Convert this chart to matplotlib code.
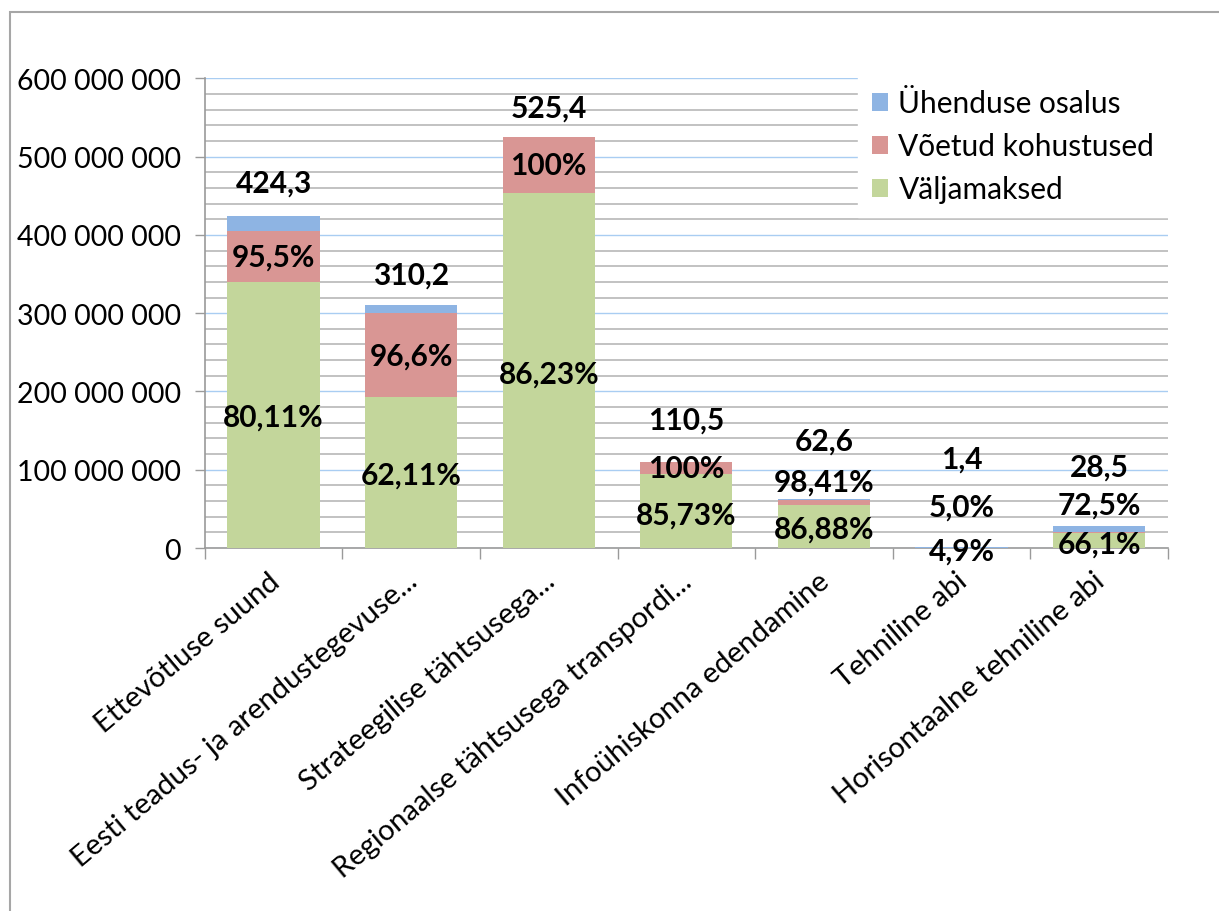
"""Stacked bar chart: payments, commitments and union share by priority axis."""

import matplotlib
matplotlib.use("Agg")
import matplotlib.pyplot as plt
import matplotlib.transforms as mtransforms
import numpy as np
from matplotlib.patches import Rectangle
from matplotlib.ticker import FuncFormatter, MultipleLocator

plt.rcParams["font.family"] = ["Lato", "DejaVu Sans"]

categories = [
    "Ettevõtluse suund",
    "Eesti teadus- ja arendustegevuse...",
    "Strateegilise tähtsusega...",
    "Regionaalse tähtsusega transpordi...",
    "Infoühiskonna edendamine",
    "Tehniline abi",
    "Horisontaalne tehniline abi",
]

# segment values, million EUR
valjamaksed = [339.9, 192.7, 453.1, 94.7, 54.4, 0.07, 18.8]
kohustused = [65.3, 107.0, 72.3, 15.8, 7.2, 0.01, 1.9]
osalus = [19.1, 10.5, 0.0, 0.0, 1.0, 1.32, 7.8]

totals_text = ["424,3", "310,2", "525,4", "110,5", "62,6", "1,4", "28,5"]
pct_red = ["95,5%", "96,6%", "100%", "100%", "98,41%", "5,0%", "72,5%"]
pct_green = ["80,11%", "62,11%", "86,23%", "85,73%", "86,88%", "4,9%", "66,1%"]

# label nudges in pixels
total_dy = [33, 31, 29, 42, 58, 88, 59]
red_dy = [0, 0, 0, 0, 21, 41, 28]
green_dy = [-2, -2, -3, -4, -2, -3, -3]

BLUE = "#8eb4e3"
RED = "#d99694"
GREEN = "#c3d69b"
GRID_MAJOR = "#a9cdf2"
GRID_MINOR = "#b2b2b2"
AXIS = "#9a9a9a"

M = 1e6
fig = plt.figure(figsize=(12.19, 9.12), dpi=100)
ax = fig.add_axes([0.168, 0.398, 0.79, 0.515])

x = np.arange(len(categories))
g = np.array(valjamaksed) * M
r = np.array(kohustused) * M
b = np.array(osalus) * M
w = 0.67
ax.bar(x, g, w, color=GREEN, label="Väljamaksed", zorder=3)
ax.bar(x, r, w, bottom=g, color=RED, label="Võetud kohustused", zorder=3)
ax.bar(x, b, w, bottom=g + r, color=BLUE, label="Ühenduse osalus", zorder=3)

ax.set_xlim(-0.5, len(categories) - 0.5)
ax.set_ylim(0, 600 * M)
ax.yaxis.set_major_locator(MultipleLocator(100 * M))
ax.yaxis.set_minor_locator(MultipleLocator(20 * M))
ax.yaxis.set_major_formatter(FuncFormatter(lambda v, _: f"{int(v):,}".replace(",", " ")))
ax.grid(axis="y", which="minor", color=GRID_MINOR, linewidth=1.1, zorder=0)
ax.grid(axis="y", which="major", color=GRID_MAJOR, linewidth=1.0, zorder=1)
ax.tick_params(axis="y", which="major", length=7, width=1, color=AXIS, labelsize=20.5, pad=10)
ax.tick_params(axis="y", which="minor", length=0)

ax.set_xticks(np.arange(len(categories) + 1) - 0.5, minor=True)
ax.set_xticks(x)
ax.set_xticklabels(categories, rotation=40, ha="right", va="top", rotation_mode="anchor", fontsize=21)
ax.tick_params(axis="x", which="major", length=0, pad=14)
ax.tick_params(axis="x", which="minor", length=8, width=1, color=AXIS)
shift = mtransforms.ScaledTranslation(-6 / 100, 0, fig.dpi_scale_trans)
for lab in ax.get_xticklabels():
    lab.set_transform(lab.get_transform() + shift)

for side in ["top", "right"]:
    ax.spines[side].set_visible(False)
for side in ["left", "bottom"]:
    ax.spines[side].set_color(AXIS)
    ax.spines[side].set_linewidth(1.2)

top = g + r + b
mid_red = g + r / 2
mid_green = g / 2
for i in range(len(categories)):
    ax.annotate(totals_text[i], (x[i], top[i]), xytext=(0, total_dy[i]), textcoords="offset pixels",
                ha="center", va="center", fontsize=21.5, weight="bold", zorder=5)
    ax.annotate(pct_red[i], (x[i], mid_red[i]), xytext=(0, red_dy[i]), textcoords="offset pixels",
                ha="center", va="center", fontsize=21.5, weight="bold", zorder=5)
    ax.annotate(pct_green[i], (x[i], mid_green[i]), xytext=(0, green_dy[i]), textcoords="offset pixels",
                ha="center", va="center", fontsize=21.5, weight="bold", zorder=5, annotation_clip=False)

handles, labels = ax.get_legend_handles_labels()
leg = ax.legend(handles[::-1], labels[::-1], loc="upper right", bbox_to_anchor=(1.0, 1.005),
                fontsize=21.5, frameon=True, fancybox=False, framealpha=1, edgecolor="white",
                handlelength=0.55, handleheight=0.55, handletextpad=0.35, labelspacing=0.5,
                borderpad=0.45, borderaxespad=0, bbox_transform=ax.transAxes)
leg.set_zorder(6)

# outer chart border
fig.add_artist(Rectangle((10 / 1219, -0.1), 1.2, 1 - 13 / 912 + 0.1, transform=fig.transFigure,
                         fill=False, edgecolor="#a6a6a6", linewidth=1.5))

fig.savefig("out.png", dpi=100, facecolor="white")
